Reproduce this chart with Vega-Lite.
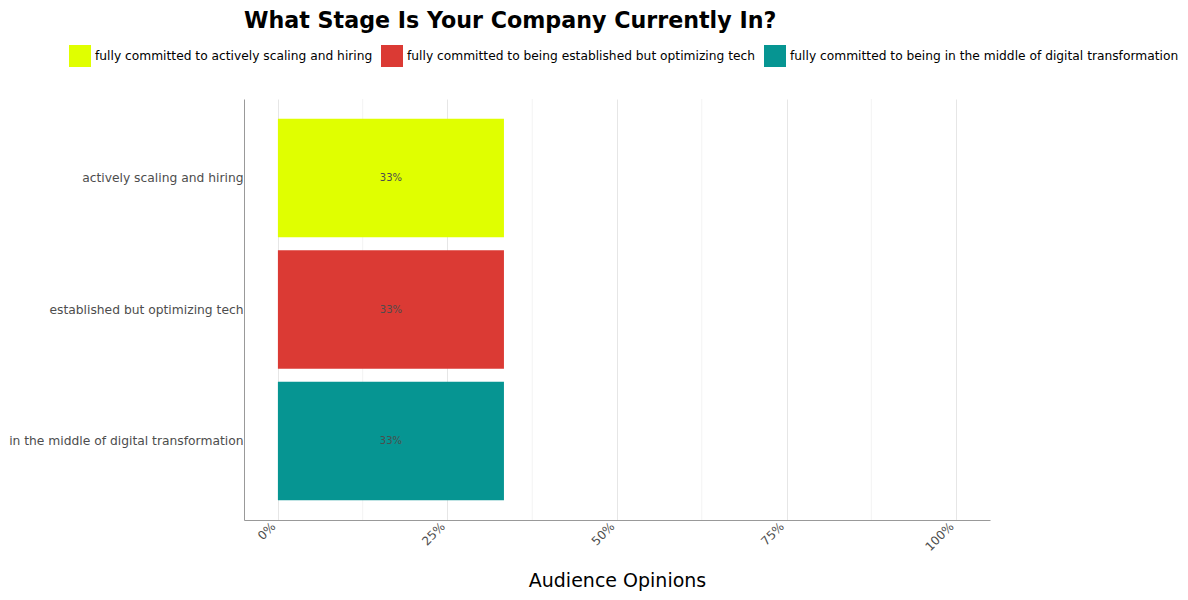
{
  "$schema": "https://vega.github.io/schema/vega-lite/v6.json",
  "autosize": {"type": "none"},
  "padding": {"left": 244, "top": 99, "right": 198, "bottom": 80},
  "width": 746,
  "height": 421,
  "background": "white",
  "config": {
    "font": "DejaVu Sans",
    "view": {"stroke": null},
    "axis": {"domainColor": "#999999", "gridColor": "#e6e6e6", "ticks": false, "labelColor": "#4d4d4d", "labelFont": "DejaVu Sans"}
  },
  "title": {
    "text": "What Stage Is Your Company Currently In?",
    "anchor": "start",
    "frame": "group",
    "fontSize": 22.2,
    "fontWeight": "bold",
    "color": "black",
    "offset": 13
  },
  "datasets": {
    "bars": [
      {"stage": "actively scaling and hiring", "group": "fully committed to actively scaling and hiring", "value": 0.3333, "label": "33%"},
      {"stage": "established but optimizing tech", "group": "fully committed to being established but optimizing tech", "value": 0.3333, "label": "33%"},
      {"stage": "in the middle of digital transformation", "group": "fully committed to being in the middle of digital transformation", "value": 0.3333, "label": "33%"}
    ],
    "minor": [{"v": 0.125}, {"v": 0.375}, {"v": 0.625}, {"v": 0.875}]
  },
  "layer": [
    {
      "data": {"name": "minor"},
      "mark": {"type": "rule", "color": "#f3f3f3", "strokeWidth": 1},
      "encoding": {
        "x": {"field": "v", "type": "quantitative", "scale": {"domain": [-0.05, 1.05], "nice": false, "zero": false}}
      }
    },
    {
      "data": {"name": "bars"},
      "mark": {"type": "bar"},
      "encoding": {
        "y": {
          "field": "stage", "type": "nominal",
          "sort": ["actively scaling and hiring", "established but optimizing tech", "in the middle of digital transformation"],
          "scale": {"paddingInner": 0.1, "paddingOuter": 0.15},
          "axis": {"title": null, "bandPosition": 0.5, "labelFontSize": 12.3, "labelPadding": 1, "labelLimit": 400, "labelDy": 3, "domainWidth": 1}
        },
        "x": {
          "field": "value", "type": "quantitative",
          "scale": {"domain": [-0.05, 1.05], "nice": false, "zero": false},
          "axis": {
            "title": "Audience Opinions", "titleFontSize": 19, "titleFontWeight": "normal", "titleColor": "black", "titlePadding": 19,
            "values": [0, 0.25, 0.5, 0.75, 1], "format": ".0%", "labelAngle": -45, "labelAlign": "right", "labelBaseline": "bottom",
            "labelFontSize": 12, "labelPadding": 9
          }
        },
        "color": {
          "field": "group", "type": "nominal",
          "scale": {
            "domain": ["fully committed to actively scaling and hiring", "fully committed to being established but optimizing tech", "fully committed to being in the middle of digital transformation"],
            "range": ["#e0ff00", "#db3a34", "#069592"]
          },
          "legend": {
            "title": null, "orient": "none", "legendX": -175, "legendY": -54, "direction": "horizontal",
            "symbolType": "square", "symbolSize": 484, "symbolStrokeWidth": 0, "symbolOpacity": 1,
            "labelFontSize": 12.25, "labelColor": "black", "labelLimit": 600, "labelOffset": 4, "columnPadding": 8
          }
        }
      }
    },
    {
      "data": {"name": "bars"},
      "transform": [{"calculate": "datum.value / 2", "as": "mid"}],
      "mark": {"type": "text", "fontSize": 10, "color": "#4d4d4d", "baseline": "middle", "align": "center"},
      "encoding": {
        "y": {"field": "stage", "type": "nominal", "sort": ["actively scaling and hiring", "established but optimizing tech", "in the middle of digital transformation"]},
        "x": {"field": "mid", "type": "quantitative"},
        "text": {"field": "label"}
      }
    }
  ]
}
